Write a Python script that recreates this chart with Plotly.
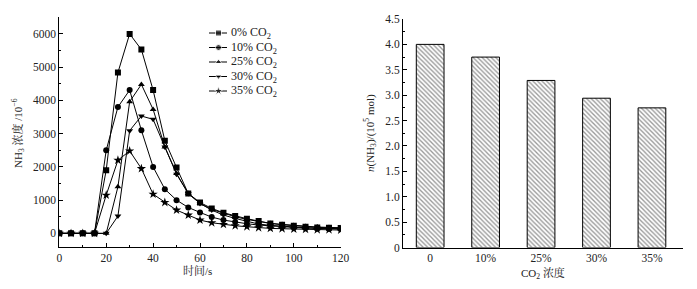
import plotly.graph_objects as go

time_s = [0, 5, 10, 15, 20, 25, 30, 35, 40, 45, 50, 55, 60, 65, 70, 75, 80, 85, 90, 95, 100, 105, 110, 115, 120]
nh3_0 = [0, 0, 0, 0, 1900, 4840, 6000, 5530, 4310, 2790, 1980, 1200, 930, 750, 620, 520, 440, 370, 300, 260, 230, 200, 180, 170, 160]
nh3_10 = [0, 0, 0, 0, 2500, 3800, 4310, 3100, 2000, 1330, 1000, 780, 630, 490, 400, 340, 290, 250, 220, 200, 180, 160, 150, 140, 130]
nh3_25 = [0, 0, 0, 0, 0, 1400, 3960, 4480, 3730, 2600, 1800, 1200, 900, 720, 600, 500, 420, 350, 300, 270, 240, 210, 190, 180, 170]
nh3_30 = [0, 0, 0, 0, 0, 520, 3090, 3530, 3430, 2600, 1780, 1200, 900, 700, 550, 450, 370, 280, 240, 210, 190, 170, 160, 150, 140]
nh3_35 = [0, 0, 0, 0, 1150, 2200, 2480, 1950, 1180, 930, 700, 550, 400, 320, 270, 230, 200, 170, 150, 140, 130, 120, 110, 110, 100]

series_names = ["0% CO<sub>2</sub>", "10% CO<sub>2</sub>", "25% CO<sub>2</sub>", "30% CO<sub>2</sub>", "35% CO<sub>2</sub>"]
series_vals = [nh3_0, nh3_10, nh3_25, nh3_30, nh3_35]
symbols = ["square", "circle", "triangle-up", "triangle-down", "star"]

co2_cats = ["0", "10%", "25%", "30%", "35%"]
n_nh3 = [4.0, 3.75, 3.29, 2.94, 2.75]

# page has an 8px body margin; figure sized to fit inside the 697x289 window
OFF = 8
W, H = 697 - 2 * OFF, 289 - 2 * OFF
FONT = "Liberation Serif, Times New Roman, Noto Serif CJK SC, Noto Sans CJK SC, serif"
TXT = "#222"
FS = 11


def px_x(p):
    return (p - OFF) / W


def px_y(p):
    return 1 - (p - OFF) / H


def msize(sym):
    return 7 if sym == "star" else 6


fig = go.Figure()
for name, vals, sym in zip(series_names, series_vals, symbols):
    fig.add_trace(go.Scatter(
        x=time_s, y=vals, name=name, mode="lines+markers", showlegend=False,
        line=dict(color="black", width=1),
        marker=dict(symbol=sym, size=msize(sym), color="black"),
        xaxis="x", yaxis="y",
    ))

fig.add_trace(go.Bar(
    x=co2_cats, y=n_nh3, width=0.5, showlegend=False,
    marker=dict(color="white", line=dict(color="black", width=1),
                pattern=dict(shape="\\", fgcolor="#333", bgcolor="white", size=3.2, solidity=0.42)),
    xaxis="x2", yaxis="y2",
))

# compact legend drawn on an overlay axis measured in page pixels
leg_rows = [33, 47.5, 62, 76.5, 91]
leg_x0, leg_xm, leg_x1, leg_tx = 209, 218.5, 227, 229
annotations = []
for name, sym, ry in zip(series_names, symbols, leg_rows):
    fig.add_trace(go.Scatter(
        x=[leg_x0, leg_xm, leg_x1], y=[ry, ry, ry], mode="lines+markers", showlegend=False,
        line=dict(color="black", width=1),
        marker=dict(symbol=sym, size=[0, msize(sym), 0], color="black"),
        xaxis="x3", yaxis="y3", hoverinfo="skip",
    ))
    annotations.append(dict(text=name, x=leg_tx, y=ry, xref="x3", yref="y3",
                            xanchor="left", yanchor="middle", showarrow=False,
                            font=dict(family=FONT, size=12, color=TXT)))

# axis titles
annotations += [
    dict(text="时间/s", x=px_x(197), y=px_y(270), xref="paper", yref="paper",
         xanchor="center", yanchor="middle", showarrow=False, font=dict(family=FONT, size=FS, color=TXT)),
    dict(text="CO<sub>2</sub> 浓度", x=px_x(543), y=px_y(273), xref="paper", yref="paper",
         xanchor="center", yanchor="middle", showarrow=False, font=dict(family=FONT, size=FS, color=TXT)),
    dict(text="NH<sub>3</sub> 浓度 /10<sup>−6</sup>", x=px_x(18), y=px_y(133), xref="paper", yref="paper",
         xanchor="center", yanchor="middle", textangle=-90, showarrow=False,
         font=dict(family=FONT, size=FS, color=TXT)),
    dict(text="<i>n</i>(NH<sub>3</sub>)/(10<sup>5</sup> mol)", x=px_x(370), y=px_y(133), xref="paper", yref="paper",
         xanchor="center", yanchor="middle", textangle=-90, showarrow=False,
         font=dict(family=FONT, size=FS, color=TXT)),
]

axis_common = dict(showline=True, linecolor="black", linewidth=1, showgrid=False, zeroline=False,
                   ticks="inside", ticklen=4, tickcolor="black", automargin=False,
                   tickfont=dict(family=FONT, size=FS + 0.5, color=TXT))

fig.update_layout(
    width=W, height=H, margin=dict(l=0, r=0, t=0, b=0, autoexpand=False),
    paper_bgcolor="white", plot_bgcolor="rgba(0,0,0,0)",
    font=dict(family=FONT, size=FS, color=TXT),
    xaxis=dict(domain=[px_x(59.3), px_x(340.7)], range=[0, 120], anchor="y",
               tickvals=[0, 20, 40, 60, 80, 100, 120],
               minor=dict(dtick=10, ticks="inside", ticklen=2, tickcolor="black"),
               **axis_common),
    yaxis=dict(domain=[px_y(247), px_y(17.3)], range=[-410, 6500], anchor="x",
               tickvals=[0, 1000, 2000, 3000, 4000, 5000, 6000],
               minor=dict(dtick=500, ticks="inside", ticklen=2, tickcolor="black"),
               **axis_common),
    xaxis2=dict(domain=[px_x(403), px_x(683)], range=[-0.49, 4.56], anchor="y2", type="category",
                showline=True, linecolor="black", linewidth=1, showgrid=False, zeroline=False,
                ticks="", automargin=False, tickfont=dict(family=FONT, size=FS + 0.5, color=TXT)),
    yaxis2=dict(domain=[px_y(247.5), px_y(19)], range=[0, 4.5], anchor="x2",
                tickvals=[0, 0.5, 1.0, 1.5, 2.0, 2.5, 3.0, 3.5, 4.0, 4.5],
                ticktext=["0", "0.5", "1.0", "1.5", "2.0", "2.5", "3.0", "3.5", "4.0", "4.5"],
                minor=dict(dtick=0.25, ticks="inside", ticklen=2, tickcolor="black"),
                **axis_common),
    xaxis3=dict(domain=[0, 1], range=[OFF, OFF + W], visible=False, fixedrange=True, anchor="y3"),
    yaxis3=dict(domain=[0, 1], range=[OFF + H, OFF], visible=False, fixedrange=True, anchor="x3"),
    annotations=annotations,
    showlegend=False,
)

fig.write_html("out.html")
